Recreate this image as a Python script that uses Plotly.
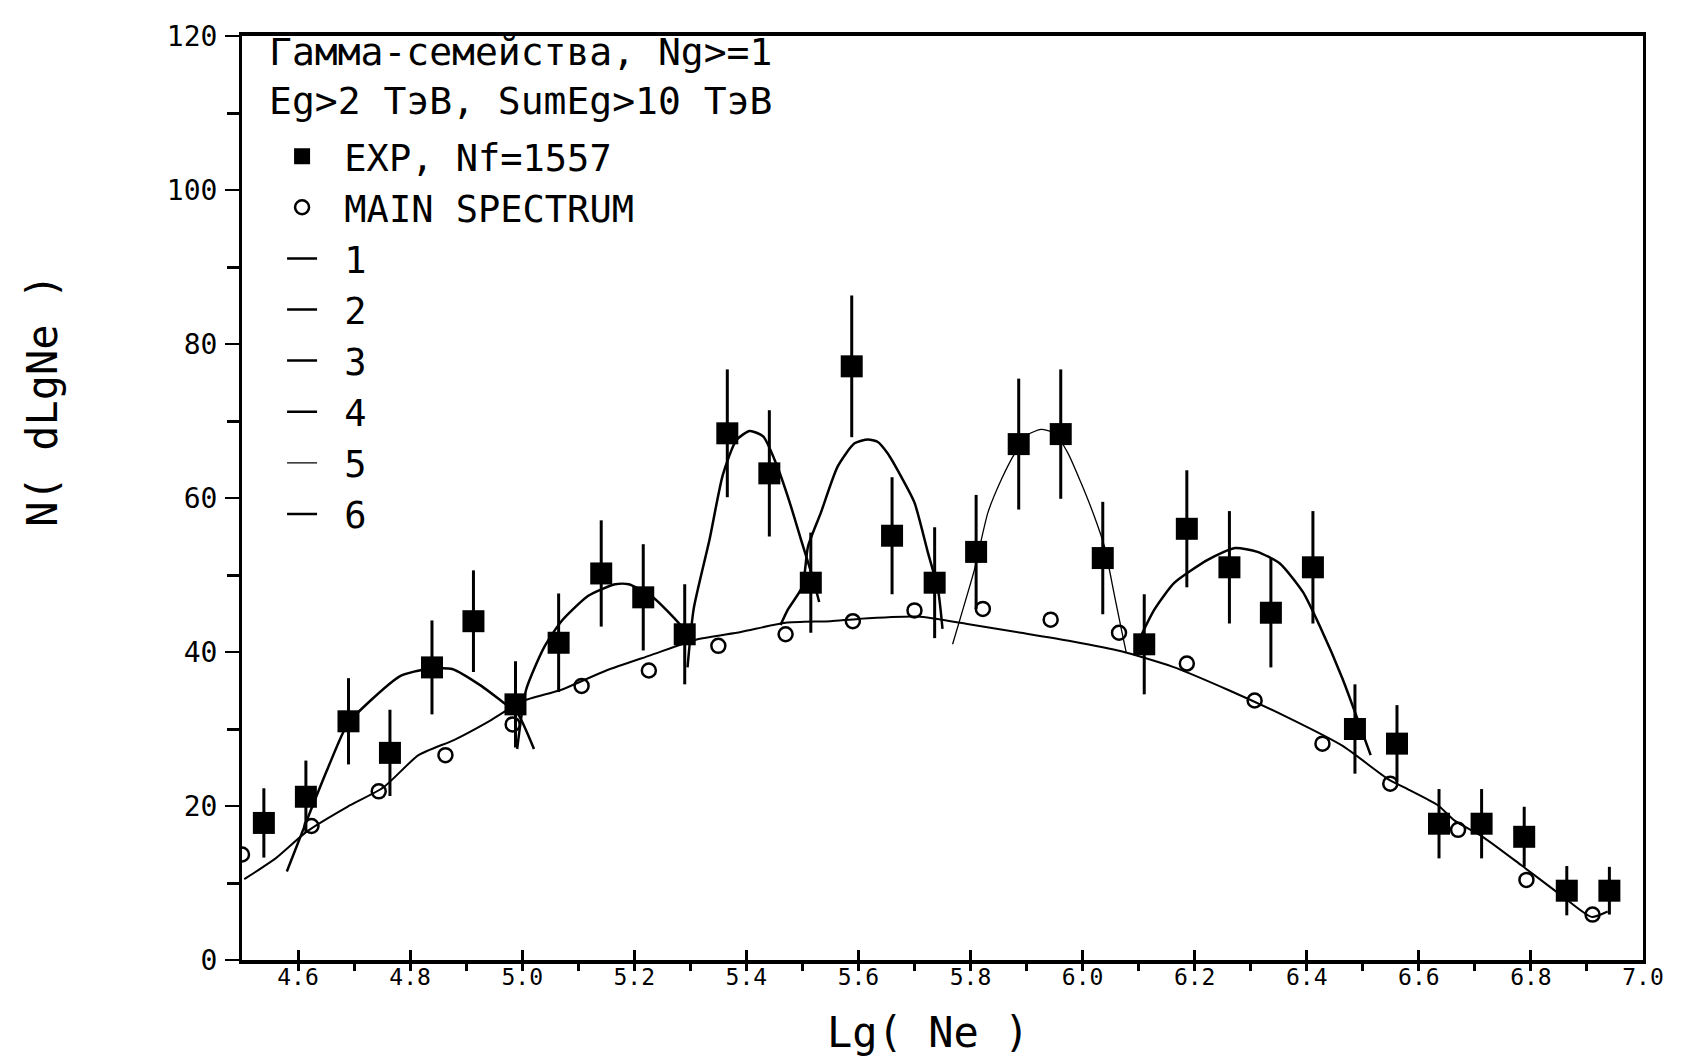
import plotly.graph_objects as go

# ---- data ----
exp_x = [4.539, 4.614, 4.690, 4.764, 4.839, 4.913, 4.988, 5.065, 5.141, 5.216, 5.290,
         5.366, 5.441, 5.515, 5.588, 5.660, 5.736, 5.810, 5.886, 5.961, 6.036, 6.110,
         6.186, 6.262, 6.336, 6.411, 6.486, 6.561, 6.636, 6.712, 6.788, 6.864, 6.940]
exp_y = [17.8, 21.2, 31.0, 26.9, 38.0, 44.0, 33.2, 41.2, 50.2, 47.1, 42.3,
         68.4, 63.2, 49.0, 77.1, 55.1, 49.0, 53.0, 67.0, 68.3, 52.2, 41.0,
         56.0, 51.0, 45.1, 51.0, 30.0, 28.1, 17.7, 17.7, 16.0, 9.0, 9.0]
exp_err = [4.5, 4.7, 5.6, 5.6, 6.1, 6.6, 5.6, 6.4, 6.9, 6.9, 6.5,
           8.3, 8.2, 6.5, 9.2, 7.6, 7.2, 7.4, 8.5, 8.4, 7.3, 6.5,
           7.6, 7.3, 7.1, 7.3, 5.8, 5.0, 4.5, 4.5, 3.9, 3.2, 3.1]

circ_x = [4.500, 4.624, 4.744, 4.863, 4.983, 5.106, 5.226, 5.350, 5.470, 5.590, 5.700,
          5.822, 5.943, 6.065, 6.186, 6.307, 6.428, 6.549, 6.670, 6.792, 6.910]
circ_y = [13.7, 17.4, 21.9, 26.6, 30.6, 35.6, 37.6, 40.8, 42.3, 44.0, 45.4,
          45.6, 44.2, 42.5, 38.5, 33.7, 28.1, 22.9, 16.9, 10.4, 5.9]

main_x = [4.504, 4.56, 4.616, 4.688, 4.752, 4.815, 4.879, 4.943, 5.0, 5.07, 5.15, 5.23,
          5.31, 5.39, 5.47, 5.55, 5.60, 5.706, 5.797, 5.89, 5.98, 6.069, 6.16, 6.262,
          6.363, 6.464, 6.545, 6.58, 6.634, 6.664, 6.714, 6.783, 6.854, 6.908, 6.937]
main_y = [10.5, 13.2, 16.7, 19.9, 22.4, 26.6, 28.6, 31.1, 33.6, 35.1, 37.6, 39.6,
          41.6, 42.6, 43.8, 44.0, 44.3, 44.6, 43.6, 42.5, 41.4, 40.1, 38.1, 35.0,
          31.6, 27.8, 23.5, 22.2, 20.1, 18.1, 16.0, 12.3, 8.4, 5.6, 6.3]

c1_x = [4.58, 4.616, 4.652, 4.688, 4.728, 4.783, 4.831, 4.875, 4.927, 4.967, 4.991, 5.021]
c1_y = [11.5, 18.2, 24.7, 30.6, 33.6, 36.9, 37.8, 37.8, 35.6, 33.4, 32.1, 27.4]
c2_x = [4.991, 5.007, 5.039, 5.07, 5.118, 5.166, 5.19, 5.23, 5.262, 5.29, 5.305]
c2_y = [27.4, 35.1, 40.6, 44.0, 47.3, 48.8, 48.8, 47.3, 45.1, 42.8, 41.0]
c3_x = [5.295, 5.306, 5.334, 5.358, 5.382, 5.406, 5.43, 5.453, 5.477, 5.50, 5.517, 5.53]
c3_y = [38.0, 45.6, 54.5, 63.0, 67.5, 68.7, 68.0, 64.5, 59.5, 54.0, 50.0, 46.5]
c4_x = [5.461, 5.474, 5.50, 5.51, 5.533, 5.563, 5.593, 5.617, 5.634, 5.652, 5.676, 5.70,
        5.724, 5.742, 5.75]
c4_y = [43.5, 45.5, 48.5, 53.7, 58.1, 64.1, 67.1, 67.6, 67.3, 65.8, 62.8, 59.4,
        52.9, 48.1, 43.0]
c5_x = [5.768, 5.783, 5.807, 5.831, 5.855, 5.879, 5.902, 5.926, 5.95, 5.974, 5.997,
        6.021, 6.039, 6.057, 6.069, 6.078]
c5_y = [41.0, 44.7, 50.7, 58.1, 62.4, 65.8, 68.2, 68.9, 68.4, 65.8, 62.0,
        57.6, 53.7, 47.3, 43.0, 39.9]
c6_x = [6.093, 6.128, 6.164, 6.224, 6.272, 6.312, 6.352, 6.393, 6.423, 6.464, 6.489, 6.514]
c6_y = [40.4, 45.5, 49.0, 52.0, 53.5, 53.0, 51.5, 47.8, 43.4, 36.5, 31.6, 26.6]

curve_names = ["1", "2", "3", "4", "5", "6"]
curve_xs = [c1_x, c2_x, c3_x, c4_x, c5_x, c6_x]
curve_ys = [c1_y, c2_y, c3_y, c4_y, c5_y, c6_y]
curve_widths = [2.5, 2.5, 2.5, 2.5, 1.3, 2.5]

exp_name = "EXP, Nf=1557"
main_name = "MAIN SPECTRUM"
header_text = "Гамма-семейства, Ng>=1<br>Eg>2 ТэВ, SumEg>10 ТэВ"
x_title = "Lg( Ne )"
y_title = "N( dLgNe )"

FONT = "DejaVu Sans Mono"
NB = "\u00a0"  # gap between legend symbol and label

fig = go.Figure()

# unlabeled main-spectrum curve
fig.add_trace(go.Scatter(x=main_x, y=main_y, mode="lines", showlegend=False,
                         line=dict(color="black", width=2, shape="spline", smoothing=0.6),
                         hoverinfo="skip"))

for i, (nm, cx, cy, w) in enumerate(zip(curve_names, curve_xs, curve_ys, curve_widths)):
    fig.add_trace(go.Scatter(x=cx, y=cy, mode="lines", name=NB + nm, legendrank=10 + i,
                             line=dict(color="black", width=w, shape="spline", smoothing=0.6)))

fig.add_trace(go.Scatter(x=exp_x, y=exp_y, mode="markers", name=NB + exp_name,
                         legendrank=1,
                         marker=dict(symbol="square", size=22, color="black"),
                         error_y=dict(type="data", array=exp_err, visible=True,
                                      width=0, thickness=3, color="black")))
fig.add_trace(go.Scatter(x=circ_x, y=circ_y, mode="markers", name=NB + main_name,
                         legendrank=2,
                         marker=dict(symbol="circle-open", size=14, color="black",
                                     line=dict(width=2.5, color="black"))))

fig.update_layout(
    width=1684, height=1056,
    margin=dict(l=234, r=49, t=25, b=104),
    paper_bgcolor="white", plot_bgcolor="white",
    font=dict(family=FONT, color="black"),
    showlegend=True,
    legend=dict(x=0.0286, y=0.903, xanchor="left", yanchor="top",
                bgcolor="rgba(0,0,0,0)", borderwidth=0, maxheight=900,
                font=dict(family=FONT, size=37, color="black"),
                tracegroupgap=0, itemwidth=30, traceorder="normal"),
    xaxis=dict(range=[4.5, 7.0], tick0=4.6, dtick=0.2, tickformat=".1f",
               showgrid=False, zeroline=False,
               showline=True, linecolor="black", linewidth=4, mirror=True,
               ticks="inside", ticklen=10, tickwidth=3, tickcolor="black",
               ticklabelstandoff=-7,
               tickfont=dict(family=FONT, size=23, color="black"),
               minor=dict(dtick=0.1, ticks="outside", ticklen=7, tickwidth=3,
                          tickcolor="black", showgrid=False)),
    yaxis=dict(range=[0, 120], dtick=20, showgrid=False, zeroline=False,
               showline=True, linecolor="black", linewidth=3, mirror=True,
               ticks="outside", ticklen=14, tickwidth=2, tickcolor="black",
               ticklabelstandoff=2,
               tickfont=dict(family=FONT, size=28, color="black"),
               minor=dict(dtick=10, ticks="outside", ticklen=12, tickwidth=3,
                          tickcolor="black", showgrid=False)),
    annotations=[
        dict(text=header_text, xref="paper", yref="paper", x=0.018, y=1.009,
             xanchor="left", yanchor="top", align="left", showarrow=False,
             font=dict(family=FONT, size=38, color="black")),
        dict(text=x_title, xref="paper", yref="paper", x=0.49, y=-0.079,
             xanchor="center", yanchor="middle", showarrow=False,
             font=dict(family=FONT, size=42, color="black")),
        dict(text=y_title, xref="paper", yref="paper", x=-0.143, y=0.606,
             xanchor="center", yanchor="middle", showarrow=False, textangle=-90,
             font=dict(family=FONT, size=42, color="black")),
    ],
)

fig.write_html("out.html")
